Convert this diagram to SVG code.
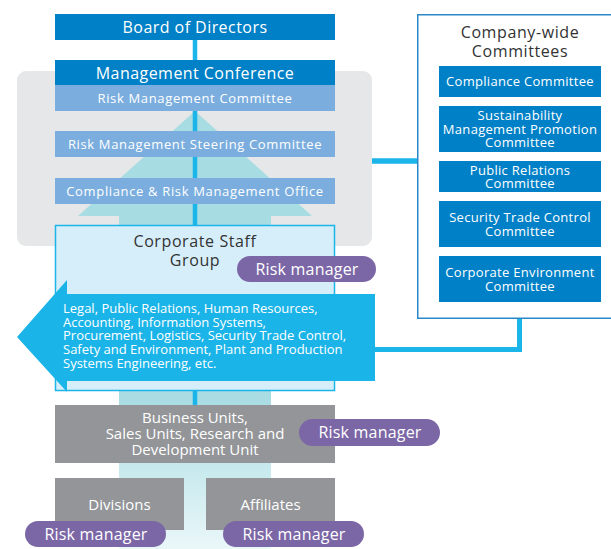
<svg xmlns="http://www.w3.org/2000/svg" width="611" height="549" viewBox="0 0 611 549">
<defs>
<linearGradient id="teal" gradientUnits="userSpaceOnUse" x1="0" y1="111" x2="0" y2="549">
<stop offset="0" stop-color="#A6DCE2"/>
<stop offset="0.65" stop-color="#A8DDE3"/>
<stop offset="1" stop-color="#EAF7F9"/>
</linearGradient>
<style>
text{font-family:"Open Sans","Liberation Sans",sans-serif;text-anchor:middle}
.dk{fill:#0080C6}
.md{fill:#7BAEDE}
.gy{fill:#939598}
.pill{fill:#7B67A6}
.cm{fill:#0080C6}
.w{fill:#FFFFFF}
.t16{font-size:16px;letter-spacing:0.45px}
.t15{font-size:15px}
.t13{font-size:13px}
.ls{letter-spacing:0.65px}
.ls3{letter-spacing:0.3px}
.h16{font-size:16px;letter-spacing:0.6px}
.dark{fill:#333333}
.ln{stroke:#1CB5EA;fill:none}
.st{text-anchor:start}
</style>
</defs>
<rect x="17" y="71" width="355" height="175" rx="9" fill="#E6E7E9"/>
<polygon points="195,111 312,216 271,216 271,549 119,549 119,216 78,216" fill="url(#teal)"/>
<g id="connectors">
<line class="ln" x1="195" y1="40" x2="195" y2="405" stroke-width="4.5"/>
<line class="ln" x1="372" y1="161" x2="418" y2="161" stroke-width="5.5"/>
<polyline class="ln" points="519.5,318 519.5,349.5 370,349.5" stroke-width="5"/>
</g>
<g id="board">
<rect x="55" y="14" width="280" height="26" class="dk"/>
<text x="195" y="33" class="w t16">Board of Directors</text>
</g>
<g id="mgmt-conf">
<rect x="55" y="60" width="280" height="25" class="dk"/>
<text x="195" y="79" class="w t16">Management Conference</text>
</g>
<g id="rmc">
<rect x="55" y="85" width="280" height="26" class="md"/>
<text x="195" y="102.5" class="w t13 ls">Risk Management Committee</text>
</g>
<g id="rmsc">
<rect x="55" y="131" width="280" height="26" class="md"/>
<text x="195" y="149" class="w t13 ls">Risk Management Steering Committee</text>
</g>
<g id="crmo">
<rect x="55" y="178" width="280" height="26" class="md"/>
<text x="195" y="195.5" class="w t13 ls">Compliance &amp; Risk Management Office</text>
</g>
<g id="corp-staff">
<rect x="55.5" y="225.5" width="279" height="165" fill="#D6EEFA" stroke="#1CB5EA" stroke-width="1.5"/>
<text x="195" y="247" class="dark h16">Corporate Staff</text>
<text x="195" y="266" class="dark h16">Group</text>
</g>
<g id="rm-corp">
<rect x="237" y="256" width="139" height="26" rx="13" class="pill"/>
<text x="307" y="275" class="w h16" style="letter-spacing:0.2px">Risk manager</text>
</g>
<g id="functions">
<polygon points="17,337 67,280 67,294 375,294 375,381 67,381 67,392" fill="#1AB4E8"/>
<text x="63" y="313" class="w t13 st">Legal, Public Relations, Human Resources,</text>
<text x="63" y="326.5" class="w t13 st">Accounting, Information Systems,</text>
<text x="63" y="340" class="w t13 st">Procurement, Logistics, Security Trade Control,</text>
<text x="63" y="354" class="w t13 st">Safety and Environment, Plant and Production</text>
<text x="63" y="367.5" class="w t13 st">Systems Engineering, etc.</text>
</g>
<g id="company-wide">
<rect x="417.75" y="14.75" width="200" height="303.5" fill="#FFFFFF" stroke="#2A88C8" stroke-width="1.5"/>
<text x="520" y="38" class="dark h16">Company-wide</text>
<text x="520" y="57" class="dark h16">Committees</text>
</g>
<g id="cc-compliance">
<rect x="439" y="66" width="162" height="31" class="cm"/>
<text x="520" y="86" class="w t13 ls3">Compliance Committee</text>
</g>
<g id="cc-sustainability">
<rect x="439" y="106" width="162" height="46" class="cm"/>
<text x="520" y="120" class="w t13 ls3">Sustainability</text>
<text x="520" y="133.5" class="w t13 ls3">Management Promotion</text>
<text x="520" y="147" class="w t13 ls3">Committee</text>
</g>
<g id="cc-pr">
<rect x="439" y="161" width="162" height="31" class="cm"/>
<text x="520" y="174.5" class="w t13 ls3">Public Relations</text>
<text x="520" y="188" class="w t13 ls3">Committee</text>
</g>
<g id="cc-security">
<rect x="439" y="201" width="162" height="46" class="cm"/>
<text x="520" y="222" class="w t13 ls3">Security Trade Control</text>
<text x="520" y="235.5" class="w t13 ls3">Committee</text>
</g>
<g id="cc-env">
<rect x="439" y="256" width="162" height="46" class="cm"/>
<text x="520" y="277" class="w t13 ls3">Corporate Environment</text>
<text x="520" y="290.5" class="w t13 ls3">Committee</text>
</g>
<g id="business-units">
<rect x="55" y="405" width="280" height="58" class="gy"/>
<text x="195" y="423" class="w t15">Business Units,</text>
<text x="195" y="439" class="w t15">Sales Units, Research and</text>
<text x="195" y="455" class="w t15">Development Unit</text>
</g>
<g id="rm-bu">
<rect x="299" y="419" width="141" height="27" rx="13.5" class="pill"/>
<text x="370" y="438" class="w h16" style="letter-spacing:0.2px">Risk manager</text>
</g>
<g id="divisions">
<rect x="55" y="478" width="129" height="52" class="gy"/>
<text x="119.5" y="510" class="w t15">Divisions</text>
</g>
<g id="affiliates">
<rect x="206" y="478" width="129" height="52" class="gy"/>
<text x="270.5" y="510" class="w t15">Affiliates</text>
</g>
<g id="rm-div">
<rect x="25" y="521" width="141" height="26" rx="13" class="pill"/>
<text x="96" y="540" class="w h16" style="letter-spacing:0.2px">Risk manager</text>
</g>
<g id="rm-aff">
<rect x="223" y="521" width="141" height="26" rx="13" class="pill"/>
<text x="294" y="540" class="w h16" style="letter-spacing:0.2px">Risk manager</text>
</g>
</svg>
